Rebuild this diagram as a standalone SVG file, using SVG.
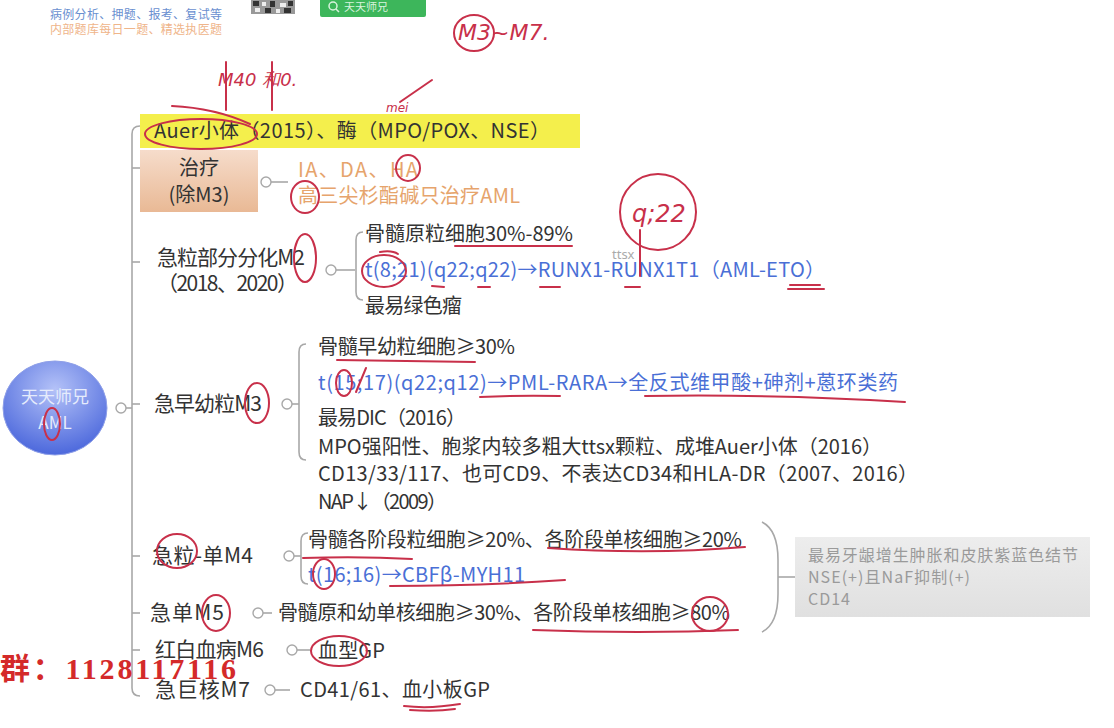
<svg xmlns="http://www.w3.org/2000/svg" width="1114" height="728" viewBox="0 0 1114 728">
<defs>
<radialGradient id="rootG" cx="50%" cy="30%" r="70%">
<stop offset="0" stop-color="#b4c2f8"/>
<stop offset="1" stop-color="#4c68dc"/>
</radialGradient>
<linearGradient id="peach" x1="0" y1="0" x2="0" y2="1">
<stop offset="0" stop-color="#f6dccb"/>
<stop offset="1" stop-color="#e9b995"/>
</linearGradient>
<linearGradient id="greyG" x1="0" y1="0" x2="0" y2="1">
<stop offset="0" stop-color="#ededed"/>
<stop offset="1" stop-color="#e0e0e0"/>
</linearGradient>
</defs>
<style>
.t{font-family:'Noto Sans CJK SC','Microsoft YaHei',sans-serif;font-size:20px;fill:#333}
.l{font-size:21px}
.b{fill:#4a6fd6}
.o{fill:#e6a46c}
.g{font-size:16px;fill:#9a9a9a}
.ln{fill:none;stroke:#a8a8a8;stroke-width:1.6}
.cc{fill:#fff;stroke:#a8a8a8;stroke-width:1.4}
.red{fill:none;stroke:#c8304a;stroke-width:2;stroke-linecap:round}
.hw{font-family:'DejaVu Sans',sans-serif;font-style:italic;fill:#c8304a}
</style>
<rect width="1114" height="728" fill="#ffffff"/>

<g id="header">
<text x="50" y="19" font-family="'Noto Sans CJK SC',sans-serif" font-size="12" fill="#6a8fd0" textLength="172">病例分析、押题、报考、复试等</text>
<text x="50" y="34" font-family="'Noto Sans CJK SC',sans-serif" font-size="12" fill="#efb58a" textLength="172">内部题库每日一题、精选执医题</text>
<g>
<rect x="251" y="0" width="44" height="14" fill="#999"/>
<rect x="253" y="1" width="6" height="5" fill="#333"/><rect x="262" y="2" width="4" height="4" fill="#eee"/><rect x="270" y="1" width="5" height="6" fill="#333"/><rect x="280" y="3" width="6" height="4" fill="#eee"/><rect x="288" y="1" width="5" height="5" fill="#333"/>
<rect x="255" y="8" width="5" height="4" fill="#eee"/><rect x="265" y="8" width="6" height="5" fill="#333"/><rect x="276" y="9" width="4" height="4" fill="#eee"/><rect x="284" y="8" width="7" height="5" fill="#333"/>
</g>
<rect x="320" y="-4" width="106" height="21" rx="2" fill="#3db65b"/>
<circle cx="333" cy="6" r="4" fill="none" stroke="#d8f3dd" stroke-width="1.5"/>
<line x1="336" y1="9" x2="339" y2="12" stroke="#d8f3dd" stroke-width="1.5"/>
<text x="344" y="11" font-family="'Noto Sans CJK SC',sans-serif" font-size="11" fill="#d8f3dd">天天师兄</text>
</g>

<g id="connectors">
<path class="ln" d="M140 126 Q132 126 132 134 L132 688 Q132 696 140 696"/>
<line class="ln" x1="132" y1="168" x2="140" y2="168"/>
<line class="ln" x1="132" y1="262" x2="140" y2="262"/>
<line class="ln" x1="132" y1="404" x2="140" y2="404"/>
<line class="ln" x1="132" y1="556" x2="140" y2="556"/>
<line class="ln" x1="132" y1="613" x2="140" y2="613"/>
<line class="ln" x1="132" y1="650" x2="140" y2="650"/>
<line class="ln" x1="126" y1="408" x2="132" y2="408"/>
<circle class="cc" cx="121" cy="408" r="5"/>
<line class="ln" x1="271" y1="182" x2="288" y2="182"/>
<circle class="cc" cx="266" cy="182" r="5"/>
<line class="ln" x1="336" y1="270" x2="355" y2="270"/>
<circle class="cc" cx="331" cy="270" r="5"/>
<path class="ln" d="M363 232 Q356 232 356 240 L356 292 Q356 300 363 300"/>
<line class="ln" x1="292" y1="404" x2="299" y2="404"/>
<circle class="cc" cx="287" cy="404" r="5"/>
<path class="ln" d="M306 344 Q299 344 299 352 L299 452 Q299 460 306 460"/>
<line class="ln" x1="294" y1="556" x2="301" y2="556"/>
<circle class="cc" cx="289" cy="556" r="5"/>
<path class="ln" d="M308 533 Q301 533 301 541 L301 576 Q301 584 308 584"/>
<line class="ln" x1="263" y1="613" x2="272" y2="613"/>
<circle class="cc" cx="258" cy="613" r="5"/>
<line class="ln" x1="297" y1="650" x2="310" y2="650"/>
<circle class="cc" cx="292" cy="650" r="5"/>
<line class="ln" x1="275" y1="690" x2="290" y2="690"/>
<circle class="cc" cx="270" cy="690" r="5"/>
<path class="ln" d="M762 522 Q778 530 778 560 L778 594 Q778 624 762 632"/>
<line class="ln" x1="778" y1="577" x2="795" y2="577"/>
</g>

<g id="root">
<ellipse cx="55" cy="408" rx="52" ry="47" fill="url(#rootG)" stroke="#8fa0e8" stroke-width="1"/>
<text x="55" y="403" text-anchor="middle" font-family="'Noto Sans CJK SC',sans-serif" font-size="17" fill="#e6ecfc">天天师兄</text>
<text x="55" y="429" text-anchor="middle" font-family="'Noto Sans CJK SC',sans-serif" font-size="17" fill="#e6ecfc">AML</text>
</g>

<g id="n-auer">
<rect x="140" y="114" width="440" height="34" fill="#f4ef4c"/>
<text class="t" x="154" y="138" textLength="396">Auer小体（2015）、酶（MPO/POX、NSE）</text>
</g>

<g id="n-treat">
<rect x="140" y="150" width="118" height="62" fill="url(#peach)"/>
<text class="t" x="199" y="175" text-anchor="middle" fill="#555">治疗</text>
<text class="t" x="199" y="202" text-anchor="middle" fill="#555">(除M3)</text>
<text class="t o" x="298" y="177" textLength="120">IA、DA、HA</text>
<text class="t o" x="298" y="203" textLength="222">高三尖杉酯碱只治疗AML</text>
</g>

<g id="n-m2">
<text class="t l" x="157" y="265" textLength="148">急粒部分分化M2</text>
<text class="t l" x="157" y="291" textLength="141">（2018、2020）</text>
<text class="t" x="365" y="241" textLength="208">骨髓原粒细胞30%-89%</text>
<text class="t b" x="365" y="277" textLength="460">t(8;21)(q22;q22)→RUNX1-RUNX1T1（AML-ETO）</text>
<text class="t" x="365" y="313" textLength="97">最易绿色瘤</text>
<text x="612" y="259" font-family="'Noto Sans',sans-serif" font-size="13" fill="#aaa">ttsx</text>
</g>

<g id="n-m3">
<text class="t l" x="154" y="411" textLength="108">急早幼粒M3</text>
<text class="t" x="318" y="354" textLength="197">骨髓早幼粒细胞≥30%</text>
<text class="t b" x="318" y="390" textLength="580">t(15;17)(q22;q12)→PML-RARA→全反式维甲酸+砷剂+蒽环类药</text>
<text class="t" x="318" y="425" textLength="148">最易DIC（2016）</text>
<text class="t" x="318" y="454" textLength="564">MPO强阳性、胞浆内较多粗大ttsx颗粒、成堆Auer小体（2016）</text>
<text class="t" x="318" y="481" textLength="600">CD13/33/117、也可CD9、不表达CD34和HLA-DR（2007、2016）</text>
<text class="t" x="318" y="509" textLength="129">NAP↓（2009）</text>
</g>

<g id="n-m4">
<text class="t l" x="152" y="563" textLength="101">急粒-单M4</text>
<text class="t" x="308" y="547" textLength="434">骨髓各阶段粒细胞≥20%、各阶段单核细胞≥20%</text>
<text class="t b" x="308" y="582" textLength="217">t(16;16)→CBFβ-MYH11</text>
</g>

<g id="n-m5">
<text class="t l" x="150" y="620" textLength="74">急单M5</text>
<text class="t" x="278" y="620" textLength="452">骨髓原和幼单核细胞≥30%、各阶段单核细胞≥80%</text>
</g>

<g id="n-summary">
<rect x="795" y="537" width="295" height="80" fill="url(#greyG)"/>
<text class="t g" x="808" y="561" textLength="270">最易牙龈增生肿胀和皮肤紫蓝色结节</text>
<text class="t g" x="808" y="583" textLength="162">NSE(+)且NaF抑制(+)</text>
<text class="t g" x="808" y="605" textLength="42">CD14</text>
</g>

<g id="n-m6">
<text class="t l" x="155" y="657" textLength="109">红白血病M6</text>
<text class="t" x="318" y="658" textLength="67">血型GP</text>
</g>

<g id="n-m7">
<text class="t l" x="155" y="697" textLength="95">急巨核M7</text>
<text class="t" x="300" y="697" textLength="190">CD41/61、血小板GP</text>
</g>

<g id="watermark">
<text x="0" y="679" font-family="'Liberation Serif','Noto Sans CJK SC',serif" font-weight="bold" font-size="30" fill="#d42a2a" textLength="236">群：1128117116</text>
</g>

<g id="annotations">
<text class="hw" x="458" y="40" font-size="22">M3~M7.</text>
<ellipse class="red" cx="474" cy="33" rx="20" ry="18"/>
<text class="hw" x="218" y="86" font-size="18">M40 和0.</text>
<line class="red" x1="226" y1="62" x2="226" y2="110"/>
<line class="red" x1="272" y1="62" x2="272" y2="110"/>
<path class="red" d="M172 106 Q215 108 250 124"/>
<ellipse class="red" cx="201" cy="134" rx="56" ry="15"/>
<text class="hw" x="386" y="112" font-size="12">mei</text>
<line class="red" x1="400" y1="102" x2="432" y2="80"/>
<ellipse class="red" cx="408" cy="168" rx="12" ry="13"/>
<ellipse class="red" cx="305" cy="197" rx="14" ry="16"/>
<ellipse class="red" cx="305" cy="258" rx="11" ry="24"/>
<ellipse class="red" cx="384" cy="271" rx="22" ry="16"/>
<path class="red" d="M380 252 Q392 250 398 254"/>
<line class="red" x1="455" y1="246" x2="572" y2="246"/>
<line class="red" x1="432" y1="286" x2="444" y2="287"/>
<line class="red" x1="478" y1="287" x2="490" y2="287"/>
<line class="red" x1="540" y1="287" x2="560" y2="287"/>
<line class="red" x1="625" y1="287" x2="640" y2="287"/>
<line class="red" x1="790" y1="285" x2="820" y2="285"/>
<line class="red" x1="788" y1="289" x2="824" y2="289"/>
<circle class="red" cx="658" cy="212" r="38"/>
<text class="hw" x="632" y="222" font-size="24">q;22</text>
<line class="red" x1="640" y1="230" x2="640" y2="276"/>
<ellipse class="red" cx="52" cy="424" rx="8" ry="16"/>
<ellipse class="red" cx="257" cy="403" rx="12" ry="20"/>
<line class="red" x1="337" y1="360" x2="475" y2="362"/>
<ellipse class="red" cx="344" cy="383" rx="8" ry="13"/>
<path class="red" d="M356 392 L366 368"/>
<path class="red" d="M480 397 Q520 395 560 396"/>
<path class="red" d="M645 396 Q780 394 905 402"/>
<ellipse class="red" cx="177" cy="551" rx="20" ry="17"/>
<path class="red" d="M303 558 Q360 556 412 559"/>
<path class="red" d="M548 548 Q650 555 745 547"/>
<ellipse class="red" cx="324" cy="574" rx="11" ry="15"/>
<path class="red" d="M390 586 Q480 586 565 580"/>
<ellipse class="red" cx="216" cy="613" rx="14" ry="18"/>
<path class="red" d="M533 630 Q640 634 738 630"/>
<ellipse class="red" cx="710" cy="614" rx="18" ry="17"/>
<ellipse class="red" cx="339" cy="651" rx="28" ry="15"/>
<path class="red" d="M404 706 Q430 709 460 704"/>
<path class="red" d="M410 710 Q435 712 455 709"/>
</g>
</svg>
